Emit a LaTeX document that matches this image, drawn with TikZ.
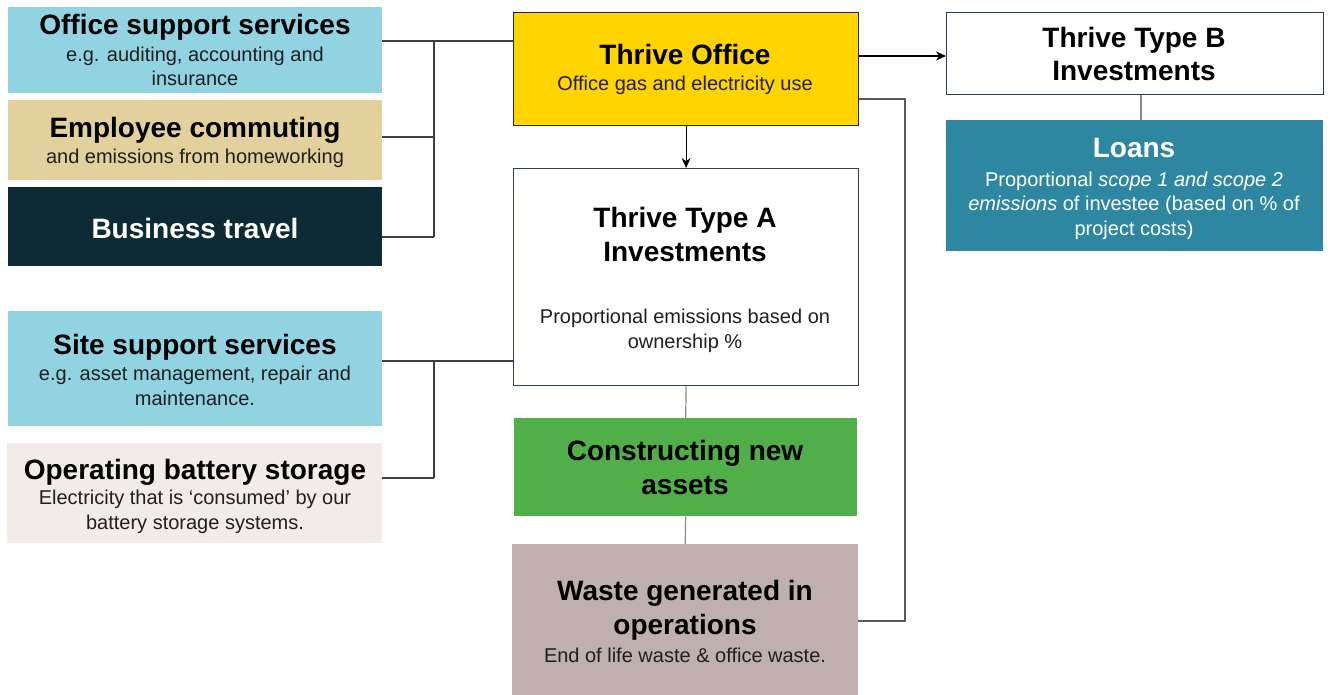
\documentclass[tikz,border=0pt]{standalone}
\usepackage{fontspec}
\setmainfont{Liberation Sans}
\usetikzlibrary{arrows.meta}

\definecolor{skyfill}{HTML}{92D3E2}
\definecolor{tanfill}{HTML}{E2D19C}
\definecolor{navyfill}{HTML}{0D2A35}
\definecolor{shellfill}{HTML}{F1ECE9}
\definecolor{goldfill}{HTML}{FFD400}
\definecolor{greenfill}{HTML}{50AF48}
\definecolor{mauvefill}{HTML}{BFAFAF}
\definecolor{tealfill}{HTML}{2E87A0}
\definecolor{slateedge}{HTML}{2B4150}
\definecolor{linkdark}{HTML}{3F3F3F}
\definecolor{linkgrey}{HTML}{5A5A5A}
\definecolor{linklight}{HTML}{8A8A8A}

% multi-line text nodes are placed by the baseline of their last line
\tikzset{
  panel/.style={rectangle, inner sep=0pt, anchor=north west, draw=none},
  framed/.style={panel, draw=slateedge, line width=1.2pt, fill=white},
  ttl/.style={font=\bfseries\fontsize{28}{33.6}\selectfont, align=center, anchor=base, inner sep=0pt},
  sub/.style={font=\fontsize{20}{24.5}\selectfont, align=center, anchor=base, inner sep=0pt, text=black!88},
  link/.style={draw=linkdark, line width=1.2pt},
  feed/.style={link, -{Stealth[length=10pt,width=9pt]}, draw=black},
}

\begin{document}
\begin{tikzpicture}[x=1pt, y=-1pt]
\useasboundingbox (0,0) rectangle (1330,695);

% ---- left column: office-related sources ----
\node[panel, fill=skyfill, minimum width=374pt, minimum height=86pt] (oss) at (8,7) {};
\node[panel, fill=tanfill, minimum width=374pt, minimum height=80pt] (emp) at (8,100) {};
\node[panel, fill=navyfill, minimum width=374pt, minimum height=79pt] (bus) at (8,187) {};

\node[ttl] (ossT) at (195,35) {Office support services};
\node[sub] (ossS) at (195,86) {e.g. auditing, accounting and\\insurance};
\node[ttl] (empT) at (195,138) {Employee commuting};
\node[sub] (empS) at (195,164) {and emissions from homeworking};
\node[ttl, text=white] (busT) at (195,238) {Business travel};

% ---- left column: site-related sources ----
\node[panel, fill=skyfill, minimum width=374pt, minimum height=115pt] (site) at (8,311) {};
\node[panel, fill=shellfill, minimum width=375pt, minimum height=100pt] (batt) at (7,443) {};

\node[ttl] (siteT) at (195,354) {Site support services};
\node[sub] (siteS) at (195,405) {e.g. asset management, repair and\\maintenance.};
\node[ttl] (battT) at (195,479) {Operating battery storage};
\node[sub] (battS) at (195,529) {Electricity that is ‘consumed’ by our\\battery storage systems.};

% ---- centre column ----
\node[panel, fill=goldfill, draw=black!85, line width=1.2pt, minimum width=345pt, minimum height=113pt] (office) at (513,12) {};
\node[ttl] (officeT) at (685,65) {Thrive Office};
\node[sub] (officeS) at (685,91) {Office gas and electricity use};

\node[framed, minimum width=345pt, minimum height=217pt] (typeA) at (513,168) {};
\node[ttl] (typeAT) at (685,261) {Thrive Type A\\Investments};
\node[sub] (typeAS) at (685,348) {Proportional emissions based on\\ownership \%};

\node[panel, fill=greenfill, minimum width=343pt, minimum height=98pt] (cons) at (514,418) {};
\node[ttl] (consT) at (685,494) {Constructing new\\assets};

\node[panel, fill=mauvefill, minimum width=346pt, minimum height=152pt] (waste) at (512,544) {};
\node[ttl] (wasteT) at (685,634) {Waste generated in\\operations};
\node[sub] (wasteS) at (685,662) {End of life waste \& office waste.};

% ---- right column ----
\node[framed, minimum width=377pt, minimum height=82pt] (typeB) at (946,12) {};
\node[ttl] (typeBT) at (1134,81) {Thrive Type B\\Investments};

\node[panel, fill=tealfill, minimum width=377pt, minimum height=131pt] (loans) at (946,120) {};
\node[ttl, text=white] (loansT) at (1134,158) {Loans};
\node[sub, text=white] (loansS) at (1134,235) {Proportional \textit{scope 1 and scope 2}\\\textit{emissions} of investee (based on \% of\\project costs)};

% ---- junction points ----
\coordinate (jTop) at (434,41);
\coordinate (jMid) at (434,137);
\coordinate (jBot) at (434,237);
\coordinate (jSite) at (434,361);
\coordinate (jBatt) at (434,478);
\coordinate (jB) at (900,56);
\coordinate (loopTop) at (905,99);
\coordinate (loopBot) at (905,621);
\coordinate (jLoans) at (1141,0);

% ---- connectors: office sources to Thrive Office ----
\draw[link] (oss.east |- jTop) -- (jTop) -- (office.west |- jTop);
\draw[link] (emp.east |- jMid) -- (jMid);
\draw[link] (bus.east |- jBot) -- (jBot);
\draw[link] (jTop) -- (jBot);

% ---- connectors: site sources to Type A ----
\draw[link] (site.east |- jSite) -- (jSite) -- (typeA.west |- jSite);
\draw[link] (batt.east |- jBatt) -- (jBatt);
\draw[link] (jSite) -- (jBatt);

% ---- connectors: centre chain ----
\draw[feed] (office.south) -- (typeA.north);
\draw[link, draw=linklight] (typeA.south) -- (cons.north);
\draw[link, draw=linklight] (cons.south) -- (waste.north);
\draw[link, draw=linkgrey] (office.east |- loopTop) -- (loopTop) -- (loopBot) -- (waste.east |- loopBot);

% ---- connectors: right column ----
\draw[feed] (office.east |- jB) -- (typeB.west |- jB);
\draw[link, draw=linklight] (typeB.south -| jLoans) -- (loans.north -| jLoans);

\end{tikzpicture}
\end{document}
